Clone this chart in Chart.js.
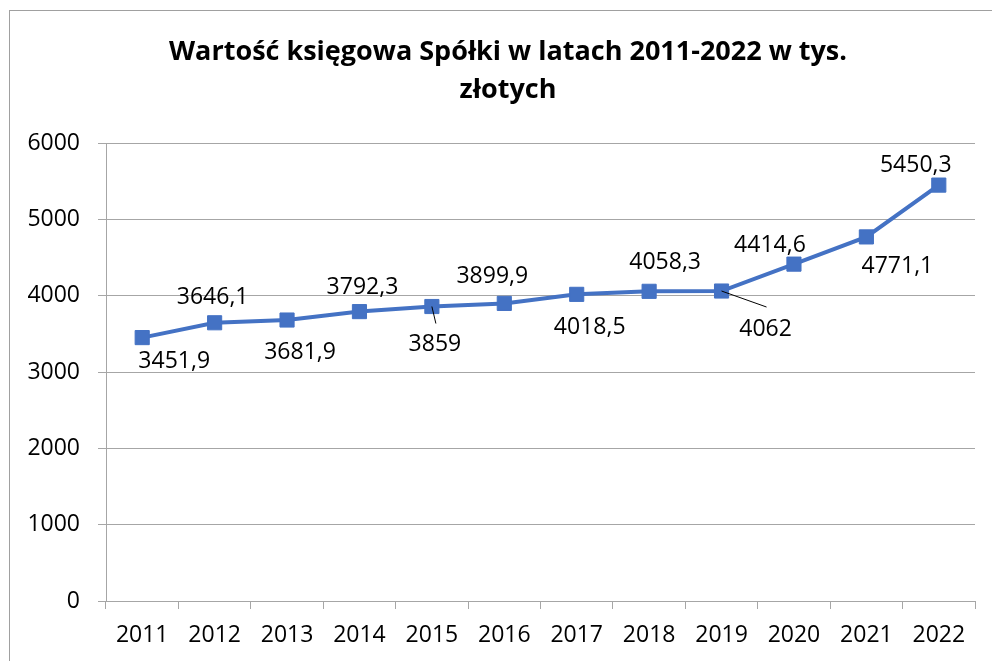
<!DOCTYPE html>
<html lang="pl">
<head>
<meta charset="utf-8">
<title>Wartość księgowa Spółki</title>
<script src="https://cdn.jsdelivr.net/npm/chart.js@4/dist/chart.umd.min.js"></script>
<style>
  html, body { margin: 0; padding: 0; background: #fff; overflow: hidden; }
  #box {
    position: absolute; left: 9px; top: 10px;
    width: 996px; height: 680px;
    border: 1px solid #a0a0a0; background: #fff;
  }
  canvas { display: block; }
</style>
</head>
<body>
<div id="box"><canvas id="wykres" width="996" height="680"></canvas></div>
<script>
// =============================
// DANE
// =============================
const lata = ["2011", "2012", "2013", "2014", "2015", "2016", "2017", "2018", "2019", "2020", "2021", "2022"];
const wartosci = [3451.9, 3646.1, 3681.9, 3792.3, 3859, 3899.9, 4018.5, 4058.3, 4062, 4414.6, 4771.1, 5450.3];
const tytul = ["Wartość księgowa Spółki w latach 2011-2022 w tys.", "złotych"];
const osY = { min: 0, max: 6000, krok: 1000 };

// przesunięcia etykiet (px) względem punktu - tak jak w oryginale z Excela
const etykietyDx = [32, -2, 13, 3, 3, -12, 13, 16, 44, -24, 31, -23];
const etykietyDy = [24, -25, 32, -24, 38, -27, 33, -29, 38, -19, 30, -20];
// linie odniesienia: indeks -> koniec linii (dx, dy)
const linieOdn = { 4: [4, 17], 8: [45, 16] };

const FONT = "'Open Sans', 'Noto Sans', sans-serif";
const NIEBIESKI = "#4472C4";
const SZARY = "#a6a6a6";

const fmt = (v) => String(v).replace(".", ",");

// =============================
// PLUGIN: etykiety danych
// =============================
const etykietyPlugin = {
  id: "etykiety",
  afterDatasetsDraw(chart) {
    const ctx = chart.ctx;
    const meta = chart.getDatasetMeta(0);
    ctx.save();
    meta.data.forEach((pt, i) => {
      const lin = linieOdn[i];
      if (lin) {
        ctx.beginPath();
        ctx.strokeStyle = "#000";
        ctx.lineWidth = 1;
        ctx.moveTo(pt.x, pt.y);
        ctx.lineTo(pt.x + lin[0], pt.y + lin[1]);
        ctx.stroke();
      }
      ctx.font = "23px " + FONT;
      ctx.fillStyle = "#000";
      ctx.textAlign = "center";
      ctx.textBaseline = "middle";
      ctx.fillText(fmt(wartosci[i]), pt.x + etykietyDx[i], pt.y + etykietyDy[i]);
    });
    ctx.restore();
  }
};

// =============================
// WYKRES
// =============================
new Chart(document.getElementById("wykres"), {
  type: "line",
  data: {
    labels: lata,
    datasets: [{
      data: wartosci,
      borderColor: NIEBIESKI,
      backgroundColor: NIEBIESKI,
      borderWidth: 4,
      pointStyle: "rect",
      pointRadius: 10,
      pointBorderWidth: 1,
      tension: 0
    }]
  },
  options: {
    responsive: false,
    animation: false,
    layout: { padding: 0 },
    plugins: {
      legend: { display: false },
      tooltip: { enabled: false },
      title: {
        display: true,
        text: tytul,
        color: "#000",
        font: { family: FONT, size: 27, weight: "bold", lineHeight: 1.41 },
        padding: { top: 22, bottom: 34 }
      }
    },
    scales: {
      x: {
        offset: true,
        grid: { offset: true, drawOnChartArea: false, drawTicks: true, tickLength: 8, color: SZARY },
        border: { display: true, color: SZARY },
        ticks: { color: "#000", font: { family: FONT, size: 23 }, padding: 13, maxRotation: 0, autoSkip: false },
        afterFit: (s) => { s.height = 90; }
      },
      y: {
        min: osY.min,
        max: osY.max,
        grid: { color: SZARY, tickLength: 8 },
        border: { display: true, color: SZARY },
        ticks: {
          stepSize: osY.krok,
          color: "#000",
          font: { family: FONT, size: 23 },
          padding: 18,
          callback: (v) => String(v)
        },
        afterFit: (s) => { s.width = 96; }
      },
      // pusta oś po prawej - tylko margines, żeby tytuł był na środku ramki
      prawa: {
        position: "right",
        grid: { display: false },
        border: { display: false },
        ticks: { display: false },
        afterFit: (s) => { s.width = 31; }
      }
    }
  },
  plugins: [etykietyPlugin]
});
</script>
</body>
</html>
